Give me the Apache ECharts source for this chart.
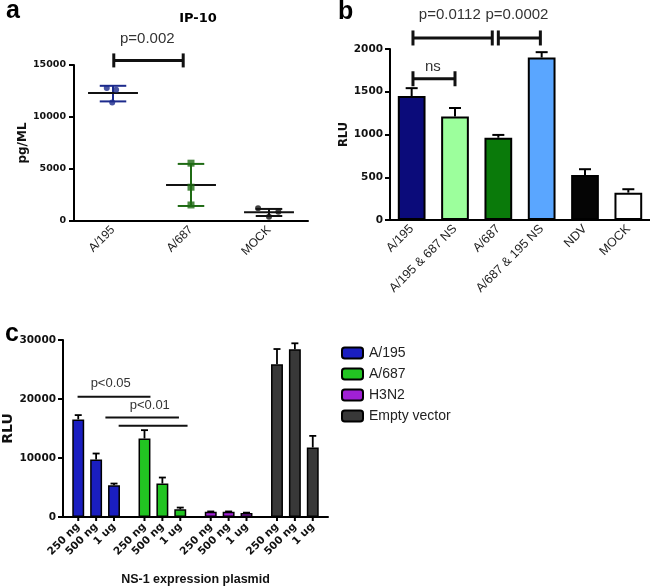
<!DOCTYPE html>
<html><head><meta charset="utf-8">
<script src="https://cdn.jsdelivr.net/npm/echarts@6/dist/echarts.min.js"></script>
<style>html,body{margin:0;padding:0;background:#fff}#c{width:650px;height:587px}</style>
</head><body><div id="c"></div>
<script>
// ---------- Panel a : IP-10 ----------
const aCategories = ['A/195', 'A/687', 'MOCK'];
const aPoints = [[12780, 12620, 11400], [5560, 3250, 1540], [1220, 415, 900]];
const aJitter = [[-0.08, 0.04, -0.01], [0, 0, 0], [-0.14, 0, 0.12]];
const aMean = [12300, 3470, 840];
const aSdLow = [11500, 1445, 480];
const aSdHigh = [13000, 5490, 1160];
const aBracket = [[0.51, 1.40, 15440, 'p=0.002', 0.94, 17500]];

// ---------- Panel b ----------
const bCategories = ['A/195', 'A/195 & 687 NS', 'A/687', 'A/687 & 195 NS', 'NDV', 'MOCK'];
const bValues = [1450, 1210, 962, 1900, 525, 320];
const bErrHigh = [1542, 1310, 995, 1963, 594, 360];
const bBrackets = [
  [0.53, 2.36, 2129, 'p=0.0112', 1.38, 2400],
  [2.50, 3.47, 2129, 'p=0.0002', 2.93, 2400],
  [0.53, 1.50, 1652, 'ns', 0.99, 1790]
];

// ---------- Panel c ----------
const cGroups = ['A/195', 'A/687', 'H3N2', 'Empty vector'];
const cDoses = ['250 ng', '500 ng', '1 ug'];
const cValues = [[16540, 9740, 5380], [13300, 5670, 1300], [880, 880, 680], [25870, 28420, 11780]];
const cErrHigh = [[17270, 10760, 5670], [14720, 6690, 1600], [940, 940, 740], [28470, 29440, 13750]];
const cLines = [
  [0.22, 1.32, 20370, 'p<0.05', 0.72, 22650],
  [0.64, 1.75, 16870, 'p<0.01', 1.31, 18950],
  [0.84, 1.88, 15450, '', 0, 0]
];

// ---------- styles ----------
const aColors = ['#1c2a8c', '#1f6b14', '#111111'];
const aSymbols = ['circle', 'rect', 'circle'];
const bColors = ['#0b0b7a', '#9cff9c', '#0a7a0a', '#5aa6ff', '#050505', '#ffffff'];
const cColors = ['#1a1ec0', '#22c422', '#a020d4', '#383838'];
const NUM_FONT = 'DejaVu Sans';
const TXT_FONT = 'Liberation Sans, Arial, sans-serif';
const C_BAR_W = 0.18, C_BAR_GAP = 0.5;   // fraction of category, gap fraction of bar
const plain = v => String(v);

const chart = echarts.init(document.getElementById('c'), null, {renderer: 'canvas'});

function unitPt(api, xu, y) {
  const p0 = api.coord([0, y]);
  const w = api.size([1, 0], [0, 0])[0];
  return [p0[0] - w / 2 + xu * w, p0[1]];
}

function bracketRender(list, withTicks, lw, tickH, fontSize) {
  return function (params, api) {
    const d = list[params.dataIndex];
    const p1 = unitPt(api, d[0], d[2]);
    const p2 = unitPt(api, d[1], d[2]);
    const ch = [{type: 'line', shape: {x1: p1[0], y1: p1[1], x2: p2[0], y2: p2[1]}, style: {stroke: '#111', lineWidth: lw}}];
    if (withTicks) {
      ch.push({type: 'line', shape: {x1: p1[0], y1: p1[1] - tickH, x2: p1[0], y2: p1[1] + tickH}, style: {stroke: '#111', lineWidth: lw}});
      ch.push({type: 'line', shape: {x1: p2[0], y1: p2[1] - tickH, x2: p2[0], y2: p2[1] + tickH}, style: {stroke: '#111', lineWidth: lw}});
    }
    if (d[3]) {
      const t = unitPt(api, d[4], d[5]);
      ch.push({type: 'text', x: t[0], y: t[1], style: {text: d[3], fill: '#333', font: 'normal ' + fontSize + 'px ' + TXT_FONT, align: 'center', verticalAlign: 'middle'}});
    }
    return {type: 'group', children: ch};
  };
}

const axisLineStyle = {lineStyle: {color: '#000', width: 2}};
const tickStyle = {length: 5, lineStyle: {color: '#000', width: 2}};

const option = {
  animation: false,
  backgroundColor: '#fff',
  title: [
    {text: 'a', left: 1, top: -6, textStyle: {fontSize: 25, fontWeight: 'bold', fontFamily: TXT_FONT, color: '#000'}},
    {text: 'IP-10', left: 193, top: 7, textAlign: 'center', textStyle: {fontSize: 13, fontWeight: 'bold', fontFamily: NUM_FONT, color: '#000'}},
    {text: 'b', left: 333, top: -5, textStyle: {fontSize: 25, fontWeight: 'bold', fontFamily: TXT_FONT, color: '#000'}},
    {text: 'c', left: 0, top: 317, textStyle: {fontSize: 25, fontWeight: 'bold', fontFamily: TXT_FONT, color: '#000'}}
  ],
  legend: {
    orient: 'vertical', left: 336, top: 341, itemWidth: 21, itemHeight: 11, itemGap: 7,
    icon: 'roundRect',
    data: cGroups,
    textStyle: {fontSize: 14, fontFamily: TXT_FONT, color: '#222', padding: [0, 0, 0, 1]}
  },
  grid: [
    {left: 74, top: 65, width: 234, height: 156, outerBoundsMode: 'none'},
    {left: 390, top: 49, width: 260, height: 171, outerBoundsMode: 'none'},
    {left: 63, top: 340, width: 265, height: 177, outerBoundsMode: 'none'},
    {left: 0, top: 0, width: 1, height: 1, show: false, outerBoundsMode: 'none'}
  ],
  xAxis: [
    {gridIndex: 0, type: 'category', data: aCategories, axisLine: axisLineStyle,
     axisTick: Object.assign({alignWithLabel: true}, tickStyle),
     axisLabel: {rotate: 45, fontSize: 12, fontFamily: TXT_FONT, color: '#222', margin: 7}},
    {gridIndex: 0, type: 'value', min: 0, max: 3, show: false},
    {gridIndex: 1, type: 'category', data: bCategories, axisLine: axisLineStyle,
     axisTick: Object.assign({alignWithLabel: true}, tickStyle),
     axisLabel: {rotate: 45, fontSize: 12.5, fontFamily: TXT_FONT, color: '#222', margin: 7, interval: 0}},
    {gridIndex: 2, type: 'category', data: cGroups, axisLine: axisLineStyle,
     axisTick: {show: false}, axisLabel: {show: false},
     name: 'NS-1 expression plasmid', nameLocation: 'middle', nameGap: 56,
     nameTextStyle: {fontSize: 12.5, fontWeight: 'bold', fontFamily: TXT_FONT, color: '#111'}},
    {gridIndex: 3, type: 'category', data: ['x'], show: false}
  ],
  yAxis: [
    {gridIndex: 0, type: 'value', min: 0, max: 15000, interval: 5000, splitLine: {show: false},
     axisLine: {show: true, lineStyle: {color: '#000', width: 2}}, axisTick: Object.assign({show: true}, tickStyle),
     axisLabel: {fontSize: 9.5, fontWeight: 'bold', fontFamily: NUM_FONT, color: '#111', margin: 8, formatter: plain},
     name: 'pg/ML', nameLocation: 'middle', nameGap: 32,
     nameTextStyle: {fontSize: 12, fontWeight: 'bold', fontFamily: NUM_FONT, color: '#111'}},
    {gridIndex: 1, type: 'value', min: 0, max: 2000, interval: 500, splitLine: {show: false},
     axisLine: {show: true, lineStyle: {color: '#000', width: 2}}, axisTick: Object.assign({show: true}, tickStyle),
     axisLabel: {fontSize: 10.5, fontWeight: 'bold', fontFamily: NUM_FONT, color: '#111', margin: 7, formatter: plain},
     name: 'RLU', nameLocation: 'middle', nameGap: 35,
     nameTextStyle: {fontSize: 11.5, fontWeight: 'bold', fontFamily: NUM_FONT, color: '#111'}},
    {gridIndex: 2, type: 'value', min: 0, max: 30000, interval: 10000, splitLine: {show: false},
     axisLine: {show: true, lineStyle: {color: '#000', width: 2}}, axisTick: Object.assign({show: true}, tickStyle),
     axisLabel: {fontSize: 10.5, fontWeight: 'bold', fontFamily: NUM_FONT, color: '#111', margin: 7, formatter: plain},
     name: 'RLU', nameLocation: 'middle', nameGap: 40,
     nameTextStyle: {fontSize: 14, fontWeight: 'bold', fontFamily: NUM_FONT, color: '#111'}},
    {gridIndex: 3, type: 'value', show: false}
  ],
  series: []
};

// Panel a: mean + SD
option.series.push({
  type: 'custom', xAxisIndex: 0, yAxisIndex: 0, z: 3,
  data: aMean.map((m, i) => [i, m]),
  renderItem: function (params, api) {
    const i = params.dataIndex;
    const w = api.size([1, 0], [i, 0])[0];
    const pm = api.coord([i, aMean[i]]), ph = api.coord([i, aSdHigh[i]]), pl = api.coord([i, aSdLow[i]]);
    const mw = w * 0.32, cw = w * 0.17, col = aColors[i];
    return {type: 'group', children: [
      {type: 'line', shape: {x1: ph[0], y1: ph[1], x2: pl[0], y2: pl[1]}, style: {stroke: col, lineWidth: 2}},
      {type: 'line', shape: {x1: ph[0] - cw, y1: ph[1], x2: ph[0] + cw, y2: ph[1]}, style: {stroke: col, lineWidth: 2}},
      {type: 'line', shape: {x1: pl[0] - cw, y1: pl[1], x2: pl[0] + cw, y2: pl[1]}, style: {stroke: col, lineWidth: 2}},
      {type: 'line', shape: {x1: pm[0] - mw, y1: pm[1], x2: pm[0] + mw, y2: pm[1]}, style: {stroke: '#111', lineWidth: 2}}
    ]};
  }
});
// Panel a: points
aCategories.forEach((c, g) => {
  option.series.push({
    type: 'scatter', xAxisIndex: 1, yAxisIndex: 0, z: 4,
    symbol: aSymbols[g], symbolSize: g === 1 ? 7 : 6,
    itemStyle: {color: aColors[g]},
    data: aPoints[g].map((v, k) => [g + 0.5 + aJitter[g][k], v])
  });
});
// Panel a: bracket
option.series.push({
  type: 'custom', xAxisIndex: 0, yAxisIndex: 0, z: 5, clip: false,
  data: aBracket.map((d, i) => [0, d[2]]),
  renderItem: bracketRender(aBracket, true, 3, 7, 15)
});

// Panel b: bars
option.series.push({
  type: 'bar', xAxisIndex: 2, yAxisIndex: 1, barWidth: '64%', z: 2,
  data: bValues.map((v, i) => ({value: v, itemStyle: {color: bColors[i], borderColor: '#000', borderWidth: 2}}))
});
// Panel b: error bars
option.series.push({
  type: 'custom', xAxisIndex: 2, yAxisIndex: 1, z: 1,
  data: bValues.map((v, i) => [i, bErrHigh[i]]),
  renderItem: function (params, api) {
    const i = params.dataIndex;
    const pt = api.coord([i, bValues[i]]), pe = api.coord([i, bErrHigh[i]]);
    return {type: 'group', children: [
      {type: 'line', shape: {x1: pt[0], y1: pt[1], x2: pe[0], y2: pe[1]}, style: {stroke: '#000', lineWidth: 2}},
      {type: 'line', shape: {x1: pe[0] - 6, y1: pe[1], x2: pe[0] + 6, y2: pe[1]}, style: {stroke: '#000', lineWidth: 2}}
    ]};
  }
});
// Panel b: brackets
option.series.push({
  type: 'custom', xAxisIndex: 2, yAxisIndex: 1, z: 5, clip: false,
  data: bBrackets.map(d => [0, d[2]]),
  renderItem: bracketRender(bBrackets, true, 3, 7.5, 15)
});

// Panel c: bars, one series per dose
cDoses.forEach((dose, k) => {
  option.series.push({
    type: 'bar', xAxisIndex: 3, yAxisIndex: 2, z: 2,
    barWidth: (C_BAR_W * 100) + '%', barGap: (C_BAR_GAP * 100) + '%',
    label: {show: true, position: 'bottom', distance: 8, rotate: 45, align: 'right', verticalAlign: 'middle',
            formatter: dose, fontSize: 10.5, fontWeight: 'bold', fontFamily: NUM_FONT, color: '#111'},
    data: cGroups.map((gname, g) => ({value: cValues[g][k], itemStyle: {color: cColors[g], borderColor: '#000', borderWidth: 1.5}}))
  });
});
// Panel c: error bars + ticks
option.series.push({
  type: 'custom', xAxisIndex: 3, yAxisIndex: 2, z: 1,
  data: [].concat(...cGroups.map((gname, g) => cDoses.map((d, k) => [g, cErrHigh[g][k]]))),
  renderItem: function (params, api) {
    const idx = params.dataIndex, g = Math.floor(idx / 3), k = idx % 3;
    const w = api.size([1, 0], [g, 0])[0];
    const off = (k - 1) * w * C_BAR_W * (1 + C_BAR_GAP);
    const pt = api.coord([g, cValues[g][k]]), pe = api.coord([g, cErrHigh[g][k]]), p0 = api.coord([g, 0]);
    const x = pt[0] + off;
    return {type: 'group', children: [
      {type: 'line', shape: {x1: x, y1: pt[1], x2: x, y2: pe[1]}, style: {stroke: '#000', lineWidth: 1.8}},
      {type: 'line', shape: {x1: x - 3.5, y1: pe[1], x2: x + 3.5, y2: pe[1]}, style: {stroke: '#000', lineWidth: 1.8}},
      {type: 'line', shape: {x1: x, y1: p0[1], x2: x, y2: p0[1] + 4}, style: {stroke: '#000', lineWidth: 2}}
    ]};
  }
});
// Panel c: significance lines
option.series.push({
  type: 'custom', xAxisIndex: 3, yAxisIndex: 2, z: 5, clip: false,
  data: cLines.map(d => [0, d[2]]),
  renderItem: bracketRender(cLines, false, 2, 0, 13)
});

// Legend entries (empty series on hidden grid)
cGroups.forEach((gname, g) => {
  option.series.push({
    type: 'bar', name: gname, xAxisIndex: 4, yAxisIndex: 3, data: [],
    itemStyle: {color: cColors[g], borderColor: '#000', borderWidth: 1.5}
  });
});

chart.setOption(option);
</script>
</body></html>
